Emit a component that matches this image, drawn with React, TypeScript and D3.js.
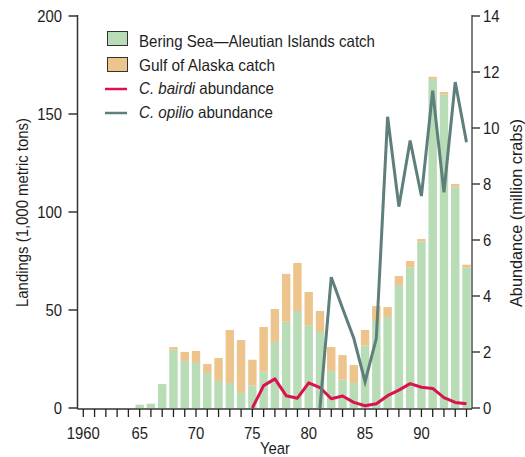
import React from "react";
import * as d3 from "d3";

const years = [1960,1961,1962,1963,1964,1965,1966,1967,1968,1969,1970,1971,1972,1973,1974,1975,1976,1977,1978,1979,1980,1981,1982,1983,1984,1985,1986,1987,1988,1989,1990,1991,1992,1993,1994];
const beringCatch = [0,0,0,0,0,1.7,2.2,12.2,29.7,24,23,17.9,13.8,12.8,7.7,11.4,18.5,33.7,44,49.5,42.3,38.8,18.9,14.5,12.8,31.8,44.4,46.4,62.8,71.6,84.9,167.9,159.9,112.9,71.6];
const gulfCatch = [0,0,0,0,0,0,0,0,1.4,4.6,6.1,4.5,11.7,27,27,13.2,22.8,16.8,24.4,24.5,16.9,10.7,12.2,12.5,9.1,8,7.6,5.1,4.5,3.4,1.3,1.1,1.3,1.4,1.5];
const bairdiYears = [1975,1976,1977,1978,1979,1980,1981,1982,1983,1984,1985,1986,1987,1988,1989,1990,1991,1992,1993,1994];
const bairdiAbund = [0,0.8,1.04,0.44,0.35,0.9,0.73,0.33,0.43,0.2,0.08,0.15,0.44,0.64,0.87,0.74,0.7,0.37,0.2,0.15];
const opilioYears = [1981,1982,1983,1984,1985,1986,1987,1988,1989,1990,1991,1992,1993,1994];
const opilioAbund = [0,4.67,3.56,2.49,0.94,2.49,10.4,7.19,9.55,7.57,11.33,7.7,11.64,9.49];
const leftTicks = [0,50,100,150,200];
const rightTicks = [0,2,4,6,8,10,12,14];
const xLabelYears = [1960,1965,1970,1975,1980,1985,1990];

const GREEN = "#b8dcb5";
const ORANGE = "#edc48c";
const RED = "#d9134e";
const GREY = "#5e7f7b";
const TEXT = "#1e1e1e";
const FONT = "'Liberation Sans', Arial, sans-serif";
const FS = 16.5;
const SX = 0.9;

function T(props: { x: number; y: number; anchor?: string; children: React.ReactNode }) {
  return (
    <text
      transform={`translate(${props.x},${props.y}) scale(${SX},1)`}
      textAnchor={props.anchor || "start"}
      fontSize={FS}
      fill={TEXT}
    >
      {props.children}
    </text>
  );
}

export default function App() {
  const W = 525, H = 457;
  const xL = 77.5, xR = 472;
  const y0 = 408, yTop = 16;
  const x = d3.scaleLinear().domain([1960, 1994]).range([83.3, 466.5]);
  const yL = d3.scaleLinear().domain([0, 200]).range([y0, yTop]);
  const yR = d3.scaleLinear().domain([0, 14]).range([y0, yTop]);
  const bw = 8.4;

  const bairdiLine = d3.line<number>().x((_, i) => x(bairdiYears[i])).y((d) => yR(d));
  const opilioLine = d3.line<number>().x((_, i) => x(opilioYears[i])).y((d) => yR(d));

  return (
    <svg width={W} height={H} style={{ position: "absolute", left: 0, top: 0, fontFamily: FONT }}>
      <rect width={W} height={H} fill="#fff" />
      {years.map((yr, i) => {
        const g = beringCatch[i];
        const o = gulfCatch[i];
        if (g + o <= 0) return null;
        return (
          <g key={yr}>
            <rect x={x(yr) - bw / 2} y={yL(g)} width={bw} height={y0 - yL(g)} fill={GREEN} />
            {o > 0 && <rect x={x(yr) - bw / 2} y={yL(g + o)} width={bw} height={yL(g) - yL(g + o)} fill={ORANGE} />}
          </g>
        );
      })}
      <path d={bairdiLine(bairdiAbund) || ""} fill="none" stroke={RED} strokeWidth={3} strokeLinejoin="round" />
      <path d={opilioLine(opilioAbund) || ""} fill="none" stroke={GREY} strokeWidth={3} strokeLinejoin="miter" />
      {/* left axis */}
      <line x1={xL} x2={xL} y1={yTop - 1} y2={y0 + 1} stroke="#333" strokeWidth={1.5} />
      {leftTicks.map((t) => (
        <g key={t}>
          <line x1={xL - 9} x2={xL} y1={yL(t)} y2={yL(t)} stroke="#333" strokeWidth={1.5} />
          <T x={62} y={yL(t) + 6} anchor="end">{t}</T>
        </g>
      ))}
      {/* right axis */}
      <line x1={xR} x2={xR} y1={yTop - 1} y2={y0 + 1} stroke="#555" strokeWidth={1.5} />
      {rightTicks.map((t) => (
        <g key={t}>
          <line x1={xR} x2={xR + 8} y1={yR(t)} y2={yR(t)} stroke="#444" strokeWidth={1.5} />
          <T x={483} y={yR(t) + 6} anchor="start">{t}</T>
        </g>
      ))}
      {/* bottom axis */}
      <line x1={xL} x2={xR} y1={y0 + 1} y2={y0 + 1} stroke="#333" strokeWidth={1.5} />
      {years.map((yr) => (
        <line key={yr} x1={x(yr)} x2={x(yr)} y1={y0 + 1} y2={y0 + 9} stroke="#222" strokeWidth={1.3} />
      ))}
      {xLabelYears.map((yr) => (
        <T key={yr} x={x(yr)} y={439} anchor="middle">
          {yr === 1960 ? "1960" : String(yr).slice(2)}
        </T>
      ))}
      <T x={275} y={454} anchor="middle">Year</T>
      <text transform={`translate(27.5,212.5) rotate(-90)`} textAnchor="middle" fontSize={FS} fill={TEXT}
        textLength={189} lengthAdjust="spacingAndGlyphs">
        Landings (1,000 metric tons)
      </text>
      <text transform={`translate(522,213) rotate(-90)`} textAnchor="middle" fontSize={FS} fill={TEXT}
        textLength={188} lengthAdjust="spacingAndGlyphs">
        Abundance (million crabs)
      </text>
      {/* legend */}
      <rect x={107.5} y={31.5} width={20} height={14} fill={GREEN} stroke="#333" strokeWidth={1} />
      <text x={139} y={46.5} fontSize={FS} fill={TEXT} textLength={236} lengthAdjust="spacingAndGlyphs">Bering Sea—Aleutian Islands catch</text>
      <rect x={107.5} y={57.5} width={20} height={14} fill={ORANGE} stroke="#333" strokeWidth={1} />
      <text x={139} y={70.5} fontSize={FS} fill={TEXT} textLength={136} lengthAdjust="spacingAndGlyphs">Gulf of Alaska catch</text>
      <line x1={105} x2={127} y1={89} y2={89} stroke={RED} strokeWidth={2.5} />
      <text x={139} y={94} fontSize={FS} fill={TEXT} textLength={135} lengthAdjust="spacingAndGlyphs"><tspan fontStyle="italic">C. bairdi</tspan> abundance</text>
      <line x1={105} x2={127} y1={113} y2={113} stroke={GREY} strokeWidth={2.5} />
      <text x={139} y={117.5} fontSize={FS} fill={TEXT} textLength={134} lengthAdjust="spacingAndGlyphs"><tspan fontStyle="italic">C. opilio</tspan> abundance</text>
    </svg>
  );
}
